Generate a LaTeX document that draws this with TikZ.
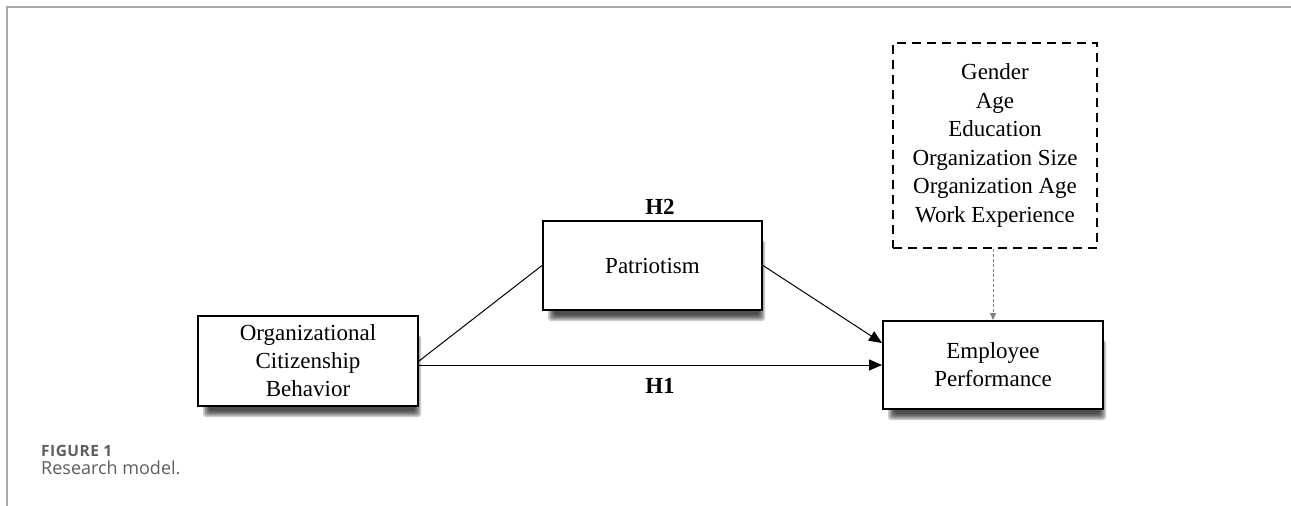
\documentclass[tikz,border=0pt]{standalone}
\usepackage{fontspec}
\setmainfont{Liberation Serif}
\newfontfamily\capfont{Open Sans}
\newfontfamily\capfontwide[LetterSpace=3]{Open Sans}
\usetikzlibrary{arrows.meta,backgrounds}
\definecolor{framegray}{HTML}{A8A8A8}
\definecolor{capgray}{HTML}{5E5E5E}
\begin{document}
\begin{tikzpicture}[x=1pt,y=-1pt,
  modelbox/.style={draw=black,line width=2pt,fill=white,align=center,
    font=\fontsize{23}{28}\selectfont,inner sep=0pt},
  ctrlbox/.style={draw=black,line width=2pt,dash pattern=on 9pt off 6pt,align=center,
    font=\fontsize{23}{28.6}\selectfont,inner sep=0pt},
  hlabel/.style={font=\fontsize{23}{28}\selectfont\bfseries},
  shadowlayer/.style={fill=black,opacity=0.21,rounded corners=3pt},
  link/.style={line width=1pt},
  arrowlink/.style={line width=1pt,-{Triangle[length=13pt,width=11pt]}},
  ctrllink/.style={line width=0.9pt,draw=gray,dash pattern=on 3pt off 2pt,-{Triangle[length=7pt,width=6pt]}},
  frameline/.style={line width=2pt,draw=framegray}]
\useasboundingbox (0,0) rectangle (1291,506);
\draw[frameline] (1291,7) -- (7,7) -- (7,506);

\node[modelbox,minimum width=220pt,minimum height=90pt] (ocb) at (308,361)
  {Organizational\\Citizenship\\Behavior};
\node[modelbox,minimum width=219pt,minimum height=89pt] (pat) at (652.5,265.5) {Patriotism};
\node[modelbox,minimum width=220pt,minimum height=88pt] (emp) at (993,365) {Employee\\Performance};
\node[ctrlbox,minimum width=204pt,minimum height=205pt] (ctrl) at (995,145.5)
  {Gender\\Age\\Education\\Organization Size\\Organization Age\\Work Experience};

\begin{pgfonlayer}{background}
  \foreach \n in {ocb,pat,emp}{
    \foreach \d in {0,1.5,3,4.5,6}{
      \fill[shadowlayer] ([xshift={6pt+\d pt},yshift={-10pt+\d pt}]\n.south west)
        rectangle ([xshift={2pt-\d pt},yshift=-20pt]\n.north east);
    }
  }
\end{pgfonlayer}

\node[hlabel] (h2) at (660,207) {H2};
\node[hlabel] (h1) at (660,386) {H1};

\draw[link] (ocb.east) -- (pat.west);
\draw[arrowlink] (pat.east) -- ([yshift=22pt]emp.west);
\draw[arrowlink] (ocb.east |- emp.west) -- (emp.west);
\draw[ctrllink] (ctrl.south -| emp.north) -- (emp.north);

\node[anchor=north west,inner sep=0pt,text=capgray,font=\capfontwide\fontsize{15.5}{17}\selectfont\bfseries] (fig) at (41,445) {FIGURE 1};
\node[anchor=north west,inner sep=0pt,text=capgray,font=\capfont\fontsize{18}{22}\selectfont] (cap) at (41,461) {Research model.};
\end{tikzpicture}
\end{document}
